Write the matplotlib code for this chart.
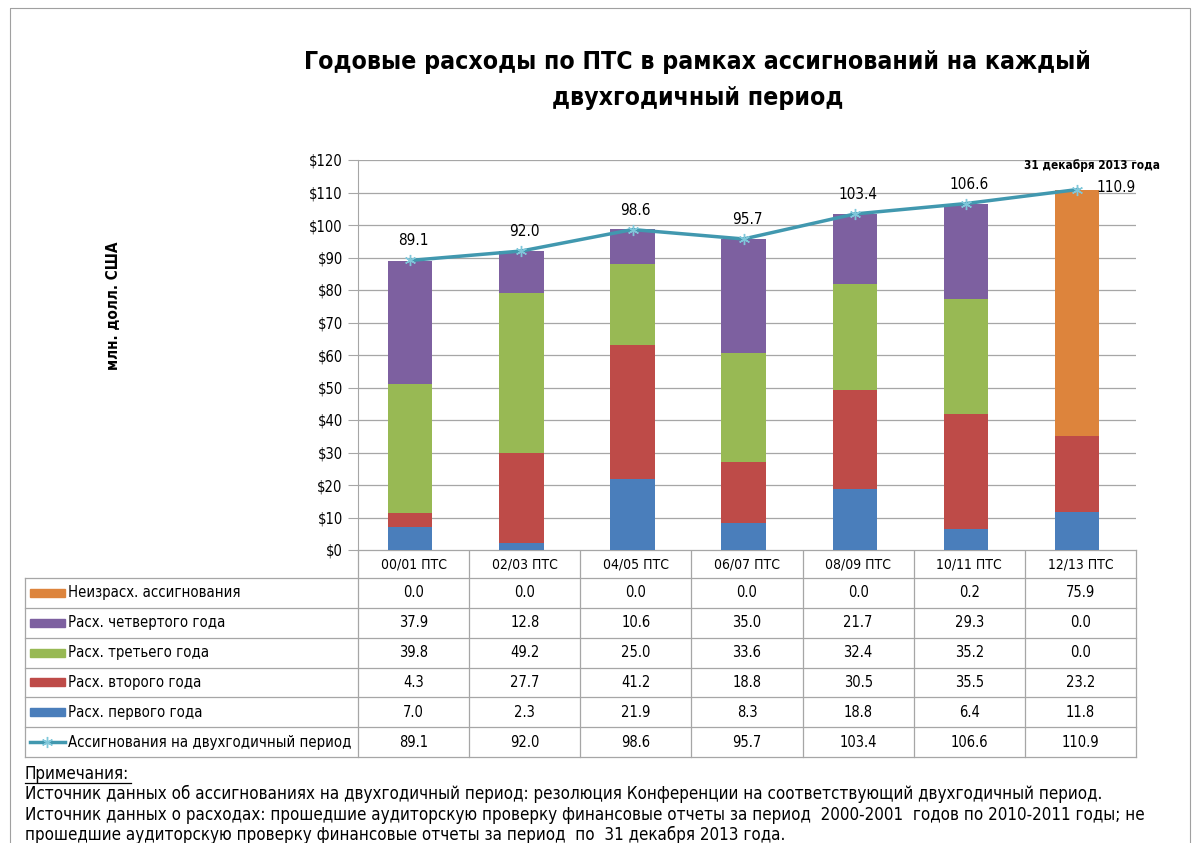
import numpy as np
import matplotlib
matplotlib.use("Agg")
from matplotlib import pyplot as plt
from matplotlib.patches import Rectangle
from matplotlib.lines import Line2D

categories = ["00/01 ПТС", "02/03 ПТС", "04/05 ПТС", "06/07 ПТС", "08/09 ПТС", "10/11 ПТС", "12/13 ПТС"]
year1 = [7.0, 2.3, 21.9, 8.3, 18.8, 6.4, 11.8]
year2 = [4.3, 27.7, 41.2, 18.8, 30.5, 35.5, 23.2]
year3 = [39.8, 49.2, 25.0, 33.6, 32.4, 35.2, 0.0]
year4 = [37.9, 12.8, 10.6, 35.0, 21.7, 29.3, 0.0]
unspent = [0.0, 0.0, 0.0, 0.0, 0.0, 0.2, 75.9]
approp = [89.1, 92.0, 98.6, 95.7, 103.4, 106.6, 110.9]

series_names = ["Неизрасх. ассигнования", "Расх. четвертого года", "Расх. третьего года",
                "Расх. второго года", "Расх. первого года"]
line_name = "Ассигнования на двухгодичный период"
yticks = list(range(0, 121, 10))

C_BLUE, C_RED, C_GREEN, C_PURPLE, C_ORANGE = "#4A7EBB", "#BE4B48", "#98B954", "#7D60A0", "#DD843C"
C_LINE = "#4198AF"

plt.rcParams["font.family"] = ["DejaVu Sans"]
plt.rcParams["font.stretch"] = "condensed"

W, H = 1203, 843
fig = plt.figure(figsize=(W / 100, H / 100), dpi=100)

# overlay in pixel coords for frame, table and notes
ov = fig.add_axes([0, 0, 1, 1])
ov.set_xlim(0, W)
ov.set_ylim(H, 0)
ov.axis("off")
ov.add_patch(Rectangle((10, 8), 1180, 850, fill=False, ec="#A0A0A0", lw=0.8))

fig.text(0.58, 0.905, "Годовые расходы по ПТС в рамках ассигнований на каждый\nдвухгодичный период",
         ha="center", va="center", fontsize=17.8, fontweight="bold", linespacing=1.6)

# chart area
x0, x1, ytop, ybot = 358, 1136, 160, 550
ax = fig.add_axes([x0 / W, 1 - ybot / H, (x1 - x0) / W, (ybot - ytop) / H])
x = np.arange(len(categories)) - 0.03
bw = 0.4
bottom = np.zeros(len(x))
for vals, col in [(year1, C_BLUE), (year2, C_RED), (year3, C_GREEN), (year4, C_PURPLE), (unspent, C_ORANGE)]:
    ax.bar(x, vals, bw, bottom=bottom, color=col, zorder=2)
    bottom += np.array(vals)
ax.plot(x, approp, color=C_LINE, lw=2.5, marker=(6, 2, 0), ms=8, mec="#7FC7DA", mew=1.0, zorder=3)
for i, v in enumerate(approp):
    if i == len(approp) - 1:
        ax.text(x[i] + 0.35, v + 0.5, f"{v:.1f}", ha="center", va="center", fontsize=11)
        ax.text(x[i] + 0.13, v + 7.5, "31 декабря 2013 года", ha="center", va="center", fontsize=8.5,
                fontweight="bold")
    else:
        ax.text(x[i] + 0.03, v + 6, f"{v:.1f}", ha="center", va="center", fontsize=11)
ax.set_xlim(-0.5, len(x) - 0.5)
ax.set_ylim(0, 120)
ax.set_yticks(yticks)
ax.set_yticklabels([f"${t}" for t in yticks], fontsize=10.5)
ax.set_xticks([])
ax.yaxis.grid(True, color="#A6A6A6", lw=0.9, zorder=0)
for s in ["top", "right", "bottom"]:
    ax.spines[s].set_visible(False)
ax.spines["left"].set_color("#A6A6A6")
ax.tick_params(axis="y", length=7, color="#A6A6A6", pad=4)
fig.text(113 / W, 1 - 306 / H, "млн. долл. США", rotation=90, ha="center", va="center",
         fontsize=11, fontweight="bold")

# data table under the chart
tl, tbot = 25, 757
header_bot = 578
rh = (tbot - header_bot) / 6
cw = (x1 - x0) / len(categories)
lc = "#A6A6A6"
for i in range(len(categories) + 1):
    xx = x0 + i * cw
    ov.plot([xx, xx], [ybot, tbot], color=lc, lw=0.9)
ov.plot([x0, x1], [ybot, ybot], color=lc, lw=0.9)
ov.plot([tl, tl], [header_bot, tbot], color=lc, lw=0.9)
for r in range(7):
    yy = header_bot + r * rh
    ov.plot([tl, x1], [yy, yy], color=lc, lw=0.9)
for i, c in enumerate(categories):
    ov.text(x0 + (i + 0.5) * cw, (ybot + header_bot) / 2, c, ha="center", va="center", fontsize=10)

rows = [(series_names[0], unspent, C_ORANGE), (series_names[1], year4, C_PURPLE),
        (series_names[2], year3, C_GREEN), (series_names[3], year2, C_RED),
        (series_names[4], year1, C_BLUE), (line_name, approp, None)]
for r, (name, vals, col) in enumerate(rows):
    yc = header_bot + (r + 0.5) * rh
    if col is not None:
        ov.add_patch(Rectangle((30, yc - 4), 35, 8, color=col))
    else:
        ov.add_line(Line2D([30, 65], [yc, yc], color=C_LINE, lw=2.5))
        ov.plot([47], [yc], marker=(6, 2, 0), ms=8, mec="#7FC7DA", mew=1.0)
    ov.text(68, yc, name, ha="left", va="center", fontsize=10.7)
    for i, v in enumerate(vals):
        ov.text(x0 + (i + 0.5) * cw, yc, f"{v:.1f}", ha="center", va="center", fontsize=10.5)

# notes
ov.text(25, 774, "Примечания:", ha="left", va="center", fontsize=12.2)
ov.plot([25, 131], [783, 783], color="black", lw=0.9)
notes = ["Источник данных об ассигнованиях на двухгодичный период: резолюция Конференции на соответствующий двухгодичный период.",
         "Источник данных о расходах: прошедшие аудиторскую проверку финансовые отчеты за период  2000-2001  годов по 2010-2011 годы; не",
         "прошедшие аудиторскую проверку финансовые отчеты за период  по  31 декабря 2013 года."]
for k, n in enumerate(notes):
    ov.text(25, 794 + k * 20.5, n, ha="left", va="center", fontsize=12.2)

fig.savefig("out.png", dpi=100)
